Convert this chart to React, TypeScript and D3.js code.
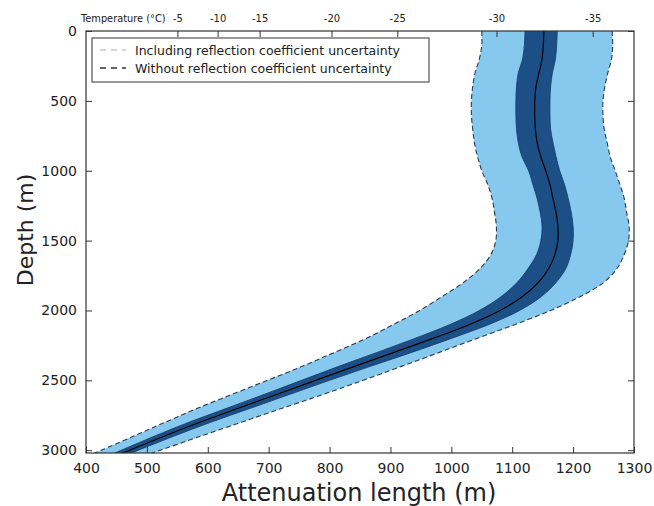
import React, { useEffect, useRef } from 'react';
import * as d3 from 'd3';

// depth (m) samples along the profile
const depth = [0, 100, 200, 300, 400, 500, 600, 700, 800, 900, 1000, 1100, 1200, 1300, 1400, 1500,
  1600, 1700, 1800, 1900, 2000, 2100, 2200, 2300, 2400, 2500, 2600, 2700, 2800, 2900, 3000, 3020];

// attenuation length (m), best estimate
const centre = [1152, 1151, 1149, 1144, 1139, 1137, 1137, 1138, 1141, 1147, 1155, 1162, 1167, 1172, 1175, 1175,
  1170, 1160, 1143, 1117, 1080, 1030, 970, 906, 841, 777, 714, 650, 587, 528, 472, 461];

// band without reflection coefficient uncertainty
const innerLo = [1121, 1120, 1117, 1110, 1107, 1106, 1106, 1107, 1110, 1116, 1127, 1134, 1141, 1146, 1149, 1147,
  1140, 1126, 1108, 1082, 1046, 998, 940, 878, 815, 754, 693, 631, 569, 512, 458, 447];
const innerHi = [1174, 1173, 1171, 1166, 1163, 1162, 1162, 1163, 1167, 1172, 1178, 1186, 1192, 1197, 1200, 1200,
  1196, 1188, 1172, 1148, 1112, 1062, 1000, 935, 867, 800, 735, 670, 605, 544, 486, 475];

// band including reflection coefficient uncertainty
const outerLo = [1050, 1050, 1046, 1039, 1035, 1033, 1033, 1035, 1038, 1043, 1050, 1060, 1067, 1071, 1074, 1073,
  1065, 1047, 1020, 985, 948, 905, 860, 808, 755, 698, 640, 583, 530, 478, 425, 414];
const outerHi = [1264, 1265, 1263, 1257, 1252, 1249, 1249, 1251, 1256, 1261, 1269, 1277, 1284, 1288, 1292, 1291,
  1284, 1272, 1250, 1212, 1163, 1105, 1042, 980, 918, 855, 790, 722, 655, 588, 522, 508];

const xTicks = [400, 500, 600, 700, 800, 900, 1000, 1100, 1200, 1300];
const yTicks = [0, 500, 1000, 1500, 2000, 2500, 3000];

// temperature axis on top: labels and the attenuation length they sit at
const tempLabels = [-5, -10, -15, -20, -25, -30, -35];
const tempAtten = [551, 617, 686, 804, 912, 1075, 1233];

const legendItems = [
  { label: 'Including reflection coefficient uncertainty', color: '#c8c8c8' },
  { label: 'Without reflection coefficient uncertainty', color: '#333' },
];

const W = 654, H = 506;
const FONT = 'DejaVu Sans, sans-serif';

export default function App() {
  const ref = useRef<SVGSVGElement>(null);

  useEffect(() => {
    const svg = d3.select(ref.current);
    svg.selectAll('*').remove();
    const x = d3.scaleLinear().domain([400, 1300]).range([86, 634]);
    const y = d3.scaleLinear().domain([0, 3020]).range([31, 453]);
    const idx = depth.map((_, i) => i);

    const band = (lo: number[], hi: number[]) =>
      d3.area<number>().y(i => y(depth[i])).x0(i => x(lo[i])).x1(i => x(hi[i])).curve(d3.curveCatmullRom)(idx);
    const edge = (v: number[]) =>
      d3.line<number>().x(i => x(v[i])).y(i => y(depth[i])).curve(d3.curveCatmullRom)(idx);

    const clip = svg.append('defs').append('clipPath').attr('id', 'plot');
    clip.append('rect').attr('x', 86).attr('y', 31).attr('width', 548).attr('height', 422);
    const g = svg.append('g').attr('clip-path', 'url(#plot)');

    g.append('path').attr('d', band(outerLo, outerHi)).attr('fill', '#87c8ee');
    g.append('path').attr('d', band(innerLo, innerHi)).attr('fill', '#1c4f86');
    [innerLo, innerHi].forEach(v =>
      g.append('path').attr('d', edge(v)).attr('fill', 'none').attr('stroke', '#123a66').attr('stroke-width', 0.8));
    g.append('path').attr('d', edge(centre)).attr('fill', 'none').attr('stroke', '#000').attr('stroke-width', 1.2);
    [outerLo, outerHi].forEach(v =>
      g.append('path').attr('d', edge(v)).attr('fill', 'none').attr('stroke', '#2a3a4a')
        .attr('stroke-width', 1.1).attr('stroke-dasharray', '5,3'));

    // frame
    svg.append('rect').attr('x', 86).attr('y', 31).attr('width', 548).attr('height', 422)
      .attr('fill', 'none').attr('stroke', '#333').attr('stroke-width', 1.2);

    const styleAxis = (a: any, size: number) => {
      a.select('.domain').remove();
      a.selectAll('line').attr('stroke', '#333');
      a.selectAll('text').attr('fill', '#222').attr('font-family', FONT).attr('font-size', size);
    };

    svg.append('g').attr('transform', 'translate(0,453)')
      .call(d3.axisBottom(x).tickValues(xTicks).tickSize(-6).tickPadding(10).tickFormat(d3.format('d')))
      .call(a => styleAxis(a, 14));
    svg.append('g').attr('transform', 'translate(86,0)')
      .call(d3.axisLeft(y).tickValues(yTicks).tickSize(-6).tickPadding(9).tickFormat(d3.format('d')))
      .call(a => styleAxis(a, 14));
    svg.append('g').attr('transform', 'translate(634,0)')
      .call(d3.axisRight(y).tickValues(yTicks).tickSize(-6).tickFormat(() => ''))
      .call(a => styleAxis(a, 14));

    const tx = d3.scaleOrdinal<number, number>().domain(tempLabels).range(tempAtten.map(v => x(v)));
    const top = svg.append('g').attr('transform', 'translate(0,31)');
    tempLabels.forEach(t => {
      top.append('line').attr('x1', tx(t)).attr('x2', tx(t)).attr('y1', 0).attr('y2', 6).attr('stroke', '#333');
      top.append('text').attr('x', tx(t)).attr('y', -9).attr('text-anchor', 'middle')
        .attr('font-family', FONT).attr('font-size', 10).attr('fill', '#222').text(String(t));
    });
    svg.append('text').attr('x', 81).attr('y', 22).attr('font-family', FONT).attr('font-size', 9.8)
      .attr('fill', '#222').text('Temperature (°C)');

    // axis titles
    svg.append('text').attr('x', 359).attr('y', 501).attr('text-anchor', 'middle')
      .attr('font-family', FONT).attr('font-size', 24).attr('fill', '#222').text('Attenuation length (m)');
    svg.append('text').attr('transform', 'translate(33,230) rotate(-90)').attr('text-anchor', 'middle')
      .attr('font-family', FONT).attr('font-size', 22).attr('fill', '#222').text('Depth (m)');

    // legend
    const lg = svg.append('g').attr('transform', 'translate(92,38)');
    lg.append('rect').attr('width', 337).attr('height', 44).attr('fill', '#fff').attr('stroke', '#333').attr('stroke-width', 1);
    legendItems.forEach((it, i) => {
      const cy = 12 + i * 18;
      lg.append('line').attr('x1', 8).attr('x2', 34).attr('y1', cy).attr('y2', cy)
        .attr('stroke', it.color).attr('stroke-width', 1.3).attr('stroke-dasharray', '6,5');
      lg.append('text').attr('x', 43).attr('y', cy + 4.5).attr('font-family', FONT).attr('font-size', 12.5)
        .attr('fill', '#222').text(it.label);
    });
  }, []);

  return (
    <div style={{ position: 'absolute', left: 0, top: 0, background: '#fff' }}>
      <svg ref={ref} width={W} height={H} />
    </div>
  );
}
